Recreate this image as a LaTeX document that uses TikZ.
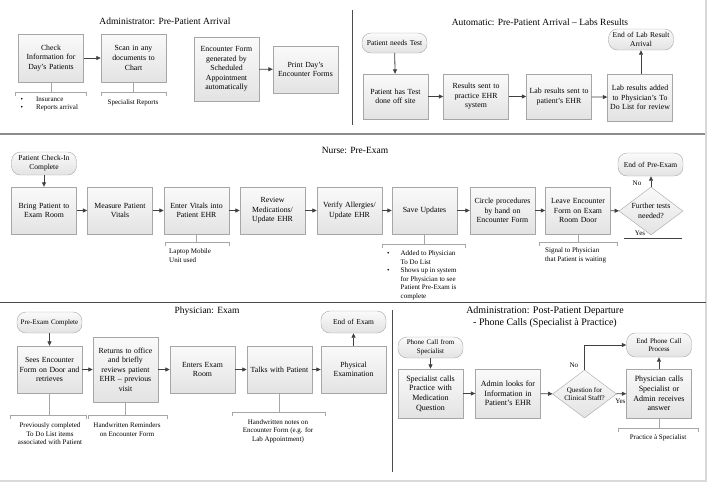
\documentclass[tikz,border=0pt]{standalone}
\usepackage{fontspec}
\setmainfont{Liberation Serif}
\usetikzlibrary{arrows.meta, shapes.geometric}
\definecolor{boxline}{HTML}{A6A6A6}
\definecolor{arrline}{HTML}{404040}

\begin{document}
\begin{tikzpicture}[x=1pt, y=-1pt,
    box/.style={draw=boxline, top color=black!2, bottom color=black!11,
                text width=64pt, align=center, inner xsep=0.5pt, inner ysep=1pt,
                minimum height=47pt, font=\fontsize{7.8}{9.6}\selectfont},
    term/.style={draw=boxline, top color=black!2, bottom color=black!11,
                 rounded corners=9pt, text width=64pt, align=center, inner xsep=0.5pt,
                 inner ysep=1pt, minimum height=22pt, font=\fontsize{7.5}{9}\selectfont},
    dec/.style={diamond, draw=boxline, top color=black!2, bottom color=black!11,
                aspect=1.33, inner sep=0pt, minimum width=64pt, minimum height=48pt,
                align=center, font=\fontsize{7.5}{9}\selectfont},
    ttl/.style={font=\fontsize{9.5}{12}\selectfont, align=center},
    note/.style={font=\fontsize{7}{8.5}\selectfont, align=center, inner sep=0pt},
    lbl/.style={font=\fontsize{7}{8.5}\selectfont, inner sep=0pt},
    arr/.style={draw=arrline, line width=0.8pt, -{Triangle[length=4.5pt, width=4pt]}},
    brk/.style={draw=boxline, line width=0.6pt},
    sep/.style={draw=black!70, line width=0.8pt},
]
    \useasboundingbox (0,0) rectangle (711,483);
    \draw[black!15, line width=1.5pt] (706,0) -- (706,481) -- (0,481);

    % panel borders
    \draw[black!45, line width=2pt] (0,134) -- (705,134);
    \draw[sep] (352,10) -- (352,125);
    \draw[sep] (0,302) -- (706,302);
    \draw[sep] (392,310) -- (392,472);

    % administrator: pre-patient arrival
    \node[ttl] (h1) at (165,21) {Administrator: Pre-Patient Arrival};
    \node[box, minimum height=48pt] (c1) at (51,58) {Check\\Information for\\Day's Patients};
    \node[box, minimum height=48pt] (c2) at (133.5,58) {Scan in any\\documents to\\Chart};
    \node[box, minimum height=64pt] (c3) at (226.5,69) {Encounter Form\\generated by\\Scheduled\\Appointment\\automatically};
    \node[box] (c4) at (305.5,69.5) {Print Day's\\Encounter Forms};
    \draw[arr] (c1) -- (c2);
    \draw[arr] (c3) -- (c4);

    \draw[brk] (c1.south) -- (51,92);
    \draw[brk] (15,96) -- (15,92) -- (86,92) -- (86,96);
    \node[note, anchor=north west, align=left] (n1) at (20.5,96.5)
        {\textbullet\hspace{13pt}Insurance\\\textbullet\hspace{13pt}Reports arrival};
    \draw[brk] (c2.south) -- (133.5,92);
    \draw[brk] (101,96) -- (101,92) -- (166,92) -- (166,96);
    \node[note] (n2) at (133,103) {Specialist Reports};

    % automatic: labs results
    \node[ttl] (h2) at (540,22) {Automatic: Pre-Patient Arrival -- Labs Results};
    \node[term, minimum height=20pt] (t1) at (394.5,43) {Patient needs Test};
    \node[box, minimum height=45pt] (l1) at (395.5,96.5) {Patient has Test\\done off site};
    \node[box, minimum height=45pt] (l2) at (476,96.5) {Results sent to\\practice EHR\\system};
    \node[box, minimum height=45pt] (l3) at (559,96.5) {Lab results sent to\\patient's EHR};
    \node[box] (l4) at (640,97.5) {Lab results added\\to Physician's To\\Do List for review};
    \node[term, minimum height=21pt] (t2) at (641,39.5) {End of Lab Result\\Arrival};
    \draw[arr] (t1) -- (l1);
    \draw[arr] (l1) -- (l2);
    \draw[arr] (l2) -- (l3);
    \draw[arr] (l3) -- (l4);
    \draw[arr] (l4.north -| t2) -- (t2);

    % nurse: pre-exam
    \node[ttl] (h3) at (355,150) {Nurse: Pre-Exam};
    \node[term, minimum height=23pt] (t3) at (44,163.5) {Patient Check-In\\Complete};
    \node[box] (n1b) at (44,210.5) {Bring Patient to\\Exam Room};
    \node[box] (n2b) at (120,210.5) {Measure Patient\\Vitals};
    \node[box] (n3b) at (196.5,210.5) {Enter Vitals into\\Patient EHR};
    \node[box] (n4b) at (272.5,210.5) {Review\\Medications/\\Update EHR};
    \node[box] (n5b) at (349.5,210.5) {Verify Allergies/\\Update EHR};
    \node[box] (n6b) at (424.5,210.5) {Save Updates};
    \node[box] (n7b) at (502.5,210.5) {Circle procedures\\by hand on\\Encounter Form};
    \node[box] (n8b) at (578,210.5) {Leave Encounter\\Form on Exam\\Room Door};
    \node[dec, font=\fontsize{7.8}{9.4}\selectfont] (d1) at (651,211) {Further tests\\needed?};
    \node[term, minimum height=23pt] (t4) at (650.5,164.5) {End of Pre-Exam};
    \draw[arr] (t3) -- (n1b);
    \draw[arr] (n1b) -- (n2b);
    \draw[arr] (n2b) -- (n3b);
    \draw[arr] (n3b) -- (n4b);
    \draw[arr] (n4b) -- (n5b);
    \draw[arr] (n5b) -- (n6b);
    \draw[arr] (n6b) -- (n7b);
    \draw[arr] (n7b) -- (n8b);
    \draw[arr] (n8b) -- (d1);
    \draw[arr] (d1.north) -- (d1.north |- t4.south);
    \node[lbl] (no1) at (637,183) {No};
    \node[lbl] (yes1) at (640,233) {Yes};
    \draw[draw=arrline, line width=0.8pt] (624,238) -- (682,238);

    \draw[brk] (n3b.south) -- (196.5,242);
    \draw[brk] (165,246) -- (165,242) -- (229,242) -- (229,246);
    \node[note, anchor=north west, align=left] (m1) at (169,248.5) {Laptop Mobile\\Unit used};
    \draw[brk] (n6b.south) -- (424.5,244);
    \draw[brk] (382,248) -- (382,244) -- (465,244) -- (465,248);
    \node[note, anchor=north west, align=left] (m2) at (387,249.5)
        {\begin{tabular}{@{}l@{\hspace{11pt}}l@{}}
         \textbullet & Added to Physician\\
                     & To Do List\\
         \textbullet & Shows up in system\\
                     & for Physician to see\\
                     & Patient Pre-Exam is\\
                     & complete
         \end{tabular}};
    \draw[brk] (n8b.south) -- (578,242);
    \draw[brk] (539,246) -- (539,242) -- (617,242) -- (617,246);
    \node[note, anchor=north west, align=left] (m3) at (545,247.5) {Signal to Physician\\that Patient is waiting};

    % physician: exam
    \node[ttl] (h4) at (207,311) {Physician: Exam};
    \node[term, minimum height=21pt, font=\fontsize{7}{8.5}\selectfont] (t5) at (49.5,322.5) {Pre-Exam Complete};
    \node[box] (p1) at (49.5,369.5) {Sees Encounter\\Form on Door and\\retrieves};
    \node[box, minimum height=65pt] (p2) at (125.5,369.5) {Returns to office\\and briefly\\reviews patient\\EHR -- previous\\visit};
    \node[box] (p3) at (202.5,369.5) {Enters Exam\\Room};
    \node[box] (p4) at (279.5,369.5) {Talks with Patient};
    \node[box] (p5) at (353.5,369.5) {Physical\\Examination};
    \node[term, minimum height=22pt] (t6) at (353.5,322) {End of Exam};
    \draw[arr] (t5) -- (p1);
    \draw[arr] (p1) -- (p2);
    \draw[arr] (p2) -- (p3);
    \draw[arr] (p3) -- (p4);
    \draw[arr] (p4) -- (p5);
    \draw[arr] (p5) -- (t6);

    \draw[brk] (p1.south) -- (49.5,415);
    \draw[brk] (10,419) -- (10,415) -- (86,415) -- (86,419);
    \node[note] (q1) at (50,434) {Previously completed\\To Do List items\\associated with Patient};
    \draw[brk] (p2.south) -- (125.5,415);
    \draw[brk] (88,419) -- (88,415) -- (167,415) -- (167,419);
    \node[note] (q2) at (127,429.5) {Handwritten Reminders\\on Encounter Form};
    \draw[brk] (p4.south) -- (279.5,412);
    \draw[brk] (232,416) -- (232,412) -- (325,412) -- (325,416);
    \node[note] (q3) at (278,431) {Handwritten notes on\\Encounter Form (e.g. for\\Lab Appointment)};

    % administration: phone calls
    \node[ttl, font=\fontsize{10}{12}\selectfont] (h5) at (545,317) {Administration: Post-Patient Departure\\- Phone Calls (Specialist à Practice)};
    \node[term, minimum height=21pt, font=\fontsize{7}{8.5}\selectfont] (t7) at (430.5,347.5) {Phone Call from\\Specialist};
    \node[box, minimum height=49pt, font=\fontsize{8}{9.6}\selectfont] (s1) at (430.5,393.5) {Specialist calls\\Practice with\\Medication\\Question};
    \node[box, minimum height=49pt, font=\fontsize{8}{9.6}\selectfont] (s2) at (508,393.5) {Admin looks for\\Information in\\Patient's EHR};
    \node[dec, font=\fontsize{7}{8.5}\selectfont] (d2) at (584.5,394) {Question for\\Clinical Staff?};
    \node[box, minimum height=49pt, font=\fontsize{8}{9.6}\selectfont] (s3) at (659,393.5) {Physician calls\\Specialist or\\Admin receives\\answer};
    \node[term, minimum height=24pt, font=\fontsize{7}{8.5}\selectfont] (t8) at (659,345) {End Phone Call\\Process};
    \draw[arr] (t7) -- (s1);
    \draw[arr] (s1) -- (s2);
    \draw[arr] (s2) -- (d2);
    \draw[arr] (d2) -- (s3) node[lbl, pos=0.4, below=5pt] {Yes};
    \draw[arr] (d2.north) |- (t8.west) node[lbl, pos=0.1, left=6pt] {No};
    \draw[arr] (s3) -- (t8);

    \draw[brk] (s3.south) -- (659,428);
    \draw[brk] (618,432) -- (618,428) -- (698,428) -- (698,432);
    \node[note] (q4) at (658,438) {Practice à Specialist};
\end{tikzpicture}
\end{document}
